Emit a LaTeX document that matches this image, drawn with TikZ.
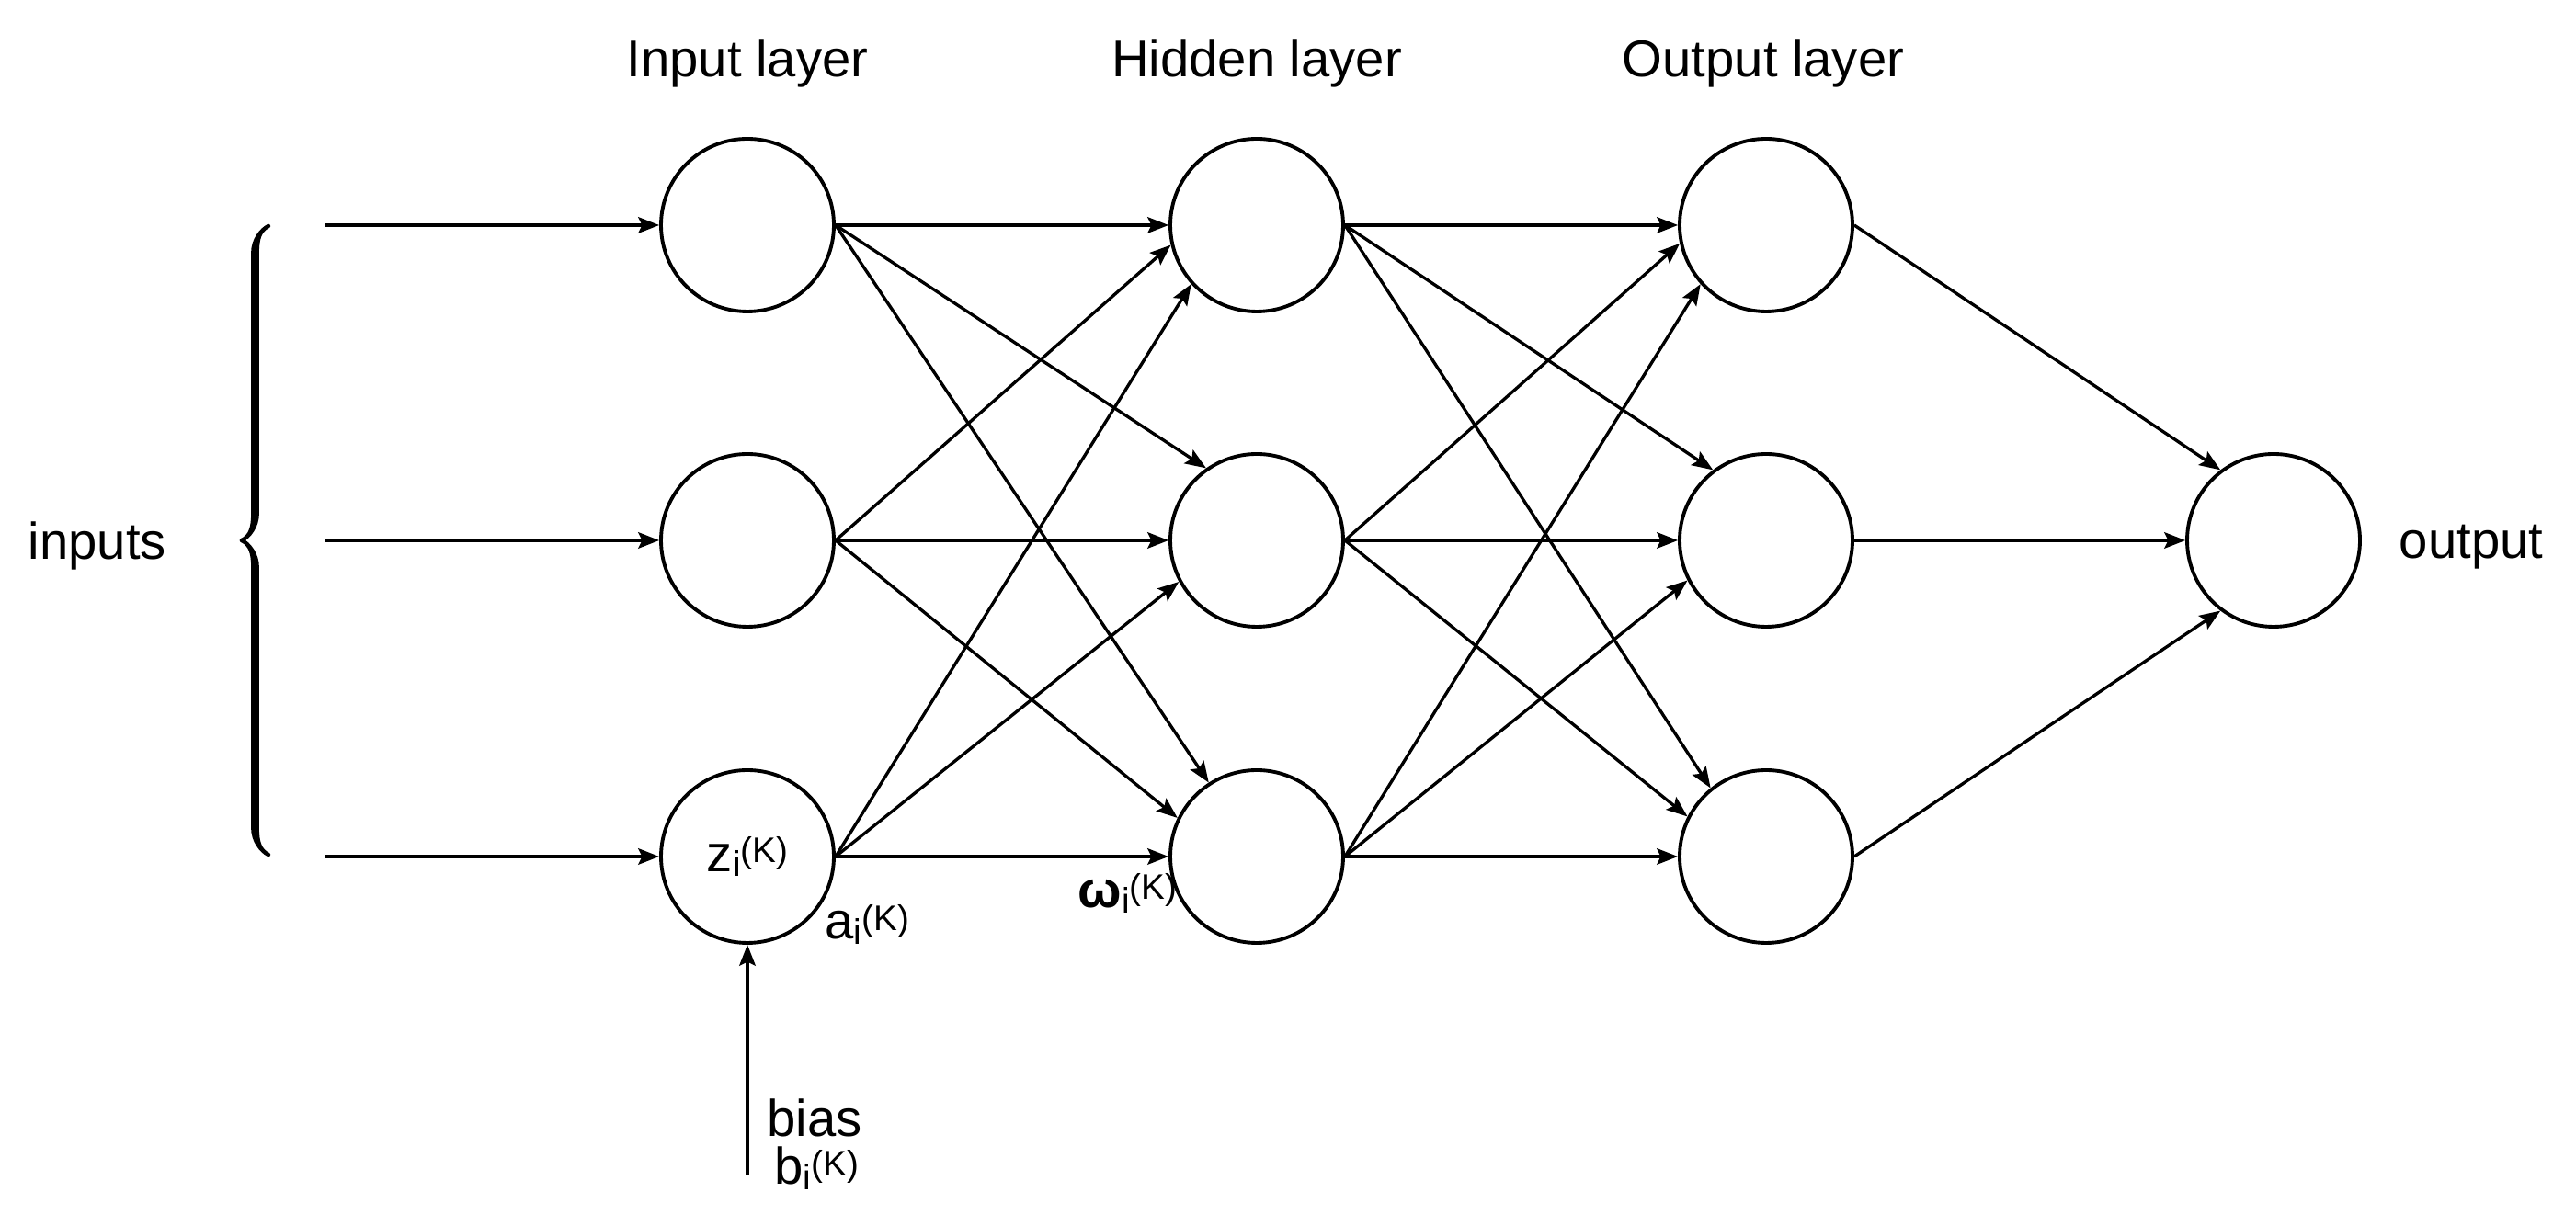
\documentclass[tikz,border=0pt]{standalone}
\usepackage{fontspec}
\setmainfont{Liberation Sans}
\usetikzlibrary{arrows.meta,decorations.pathreplacing,calligraphy}

% letter with index i and layer (K)
\newcommand{\ik}[1]{#1\raisebox{-1.5pt}{\fontsize{11pt}{11pt}\selectfont i}\raisebox{2.8pt}{\fontsize{11pt}{11pt}\selectfont (K)}}

\begin{document}
\begin{tikzpicture}[every node/.style={font=\fontsize{16pt}{19pt}\selectfont},
  neuron/.style={draw,circle,line width=1.1pt,minimum size=1.88cm,inner sep=0pt},
  edge/.style={line width=0.95pt,-{Stealth[length=6.5pt,width=5pt,inset=1.2pt]}}]
\useasboundingbox (0,0) rectangle (28.02,13.34);

%%% LAYERS %%%
\node [neuron] at (8.13,10.89) (i1) {};
\node [neuron] at (8.13,7.46) (i2) {};
\node [neuron] at (8.13,4.02) (i3) {\ik{z}};

\node [neuron] at (13.67,10.89) (h1) {};
\node [neuron] at (13.67,7.46) (h2) {};
\node [neuron] at (13.67,4.02) (h3) {};

\node [neuron] at (19.21,10.89) (o1) {};
\node [neuron] at (19.21,7.46) (o2) {};
\node [neuron] at (19.21,4.02) (o3) {};

\node [neuron] at (24.73,7.46) (out) {};

%%% LABELS %%%
\node [anchor=base] at (8.13,12.50) (t_in) {Input layer};
\node [anchor=base] at (13.67,12.50) (t_hid) {Hidden layer};
\node [anchor=base] at (19.18,12.50) (t_out) {Output layer};

\node [anchor=base] at (1.06,7.25) (inputs) {inputs};
\node [anchor=base] at (26.88,7.26) (output) {output};

\node [anchor=base west,inner sep=0pt] at (8.97,3.12) (a_lab) {\ik{a}};
\node [anchor=base west,inner sep=0pt] at (11.72,3.46) (w_lab) {\ik{\textbf{ω}}};
\node [anchor=base west,inner sep=0pt] at (8.34,0.97) (bias) {bias};
\node [anchor=base west,inner sep=0pt] at (8.42,0.45) (b_lab) {\ik{b}};

%%% INPUTS %%%
\coordinate (x1) at (3.53,10.89);
\coordinate (x2) at (3.53,7.46);
\coordinate (x3) at (3.53,4.02);
\coordinate (b_in) at (8.13,0.56);
\coordinate (br_bot) at (2.92,4.04);
\coordinate (br_top) at (2.92,10.88);

\draw [decorate,decoration={calligraphic brace,amplitude=0.29cm},line width=2.5pt] (br_bot) -- (br_top);

\draw [edge] (x1) -- (i1);
\draw [edge] (x2) -- (i2);
\draw [edge] (x3) -- (i3);
\draw [edge] (b_in) -- (i3);

%%% INPUT -> HIDDEN %%%
\draw [edge] (i1.east) -- (h1.west);
\draw [edge] (i2.east) -- (h1.193);
\draw [edge] (i3.east) -- (h1.222);

\draw [edge] (i1.east) -- (h2.125);
\draw [edge] (i2.east) -- (h2.west);
\draw [edge] (i3.east) -- (h2.208);

\draw [edge] (i1.east) -- (h3.123);
\draw [edge] (i2.east) -- (h3.154);
\draw [edge] (i3.east) -- (h3.west);

%%% HIDDEN -> OUTPUT %%%
\draw [edge] (h1.east) -- (o1.west);
\draw [edge] (h2.east) -- (o1.192);
\draw [edge] (h3.east) -- (o1.222);

\draw [edge] (h1.east) -- (o2.127);
\draw [edge] (h2.east) -- (o2.west);
\draw [edge] (h3.east) -- (o2.207);

\draw [edge] (h1.east) -- (o3.129);
\draw [edge] (h2.east) -- (o3.153);
\draw [edge] (h3.east) -- (o3.west);

%%% OUTPUT -> RESULT %%%
\draw [edge] (o1.east) -- (out.127);
\draw [edge] (o2.east) -- (out.west);
\draw [edge] (o3.east) -- (out.233);
\end{tikzpicture}
\end{document}
